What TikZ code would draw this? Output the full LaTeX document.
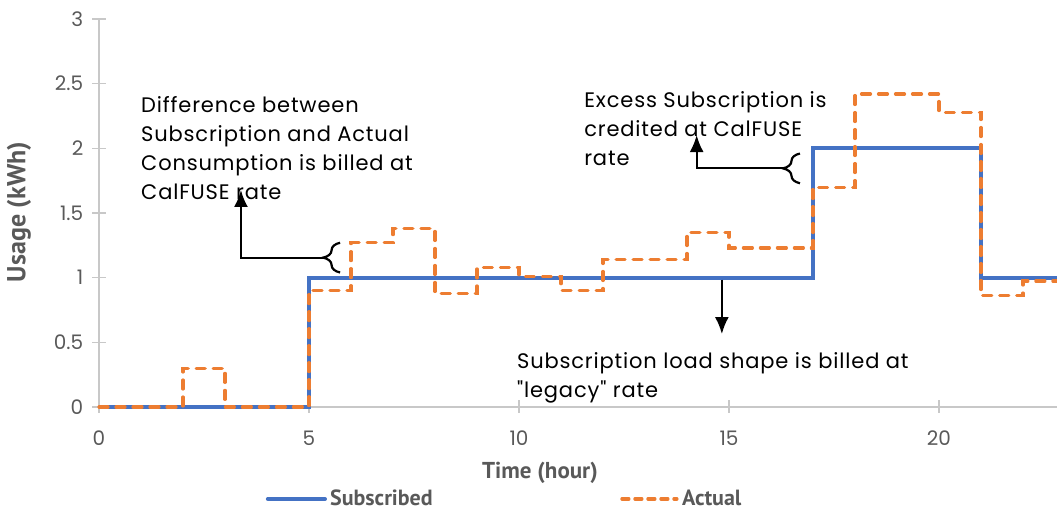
\documentclass[tikz,border=0pt]{standalone}
\usepackage{fontspec}
\setmainfont{Poppins}[Ligatures=TeXOff, LetterSpace=4]
\newfontfamily\titlefont{PT Sans}
\usetikzlibrary{arrows.meta,positioning,decorations.pathreplacing}
\definecolor{subblue}{RGB}{68,114,196}
\definecolor{actorange}{RGB}{237,125,49}
\definecolor{axisgray}{RGB}{200,200,200}
\definecolor{labelgray}{RGB}{89,89,89}

\begin{document}
\begin{tikzpicture}[
  every node/.style={inner sep=0pt},
  axisline/.style={draw=axisgray, line width=1.5pt},
  ticklbl/.style={font=\addfontfeature{LetterSpace=0}\fontsize{20}{24}\selectfont, text=labelgray},
  axtitle/.style={font=\titlefont\bfseries\fontsize{23}{27}\selectfont, text=labelgray},
  legendlbl/.style={font=\titlefont\bfseries\fontsize{22}{26}\selectfont, text=labelgray},
  note/.style={font=\fontsize{21}{29}\selectfont, align=left, anchor=north west},
  subscribed/.style={draw=subblue, line width=4pt},
  actual/.style={draw=actorange, line width=3.2pt, line cap=round,
    dash pattern=on 9pt off 8pt},
  callout/.style={-{Latex[length=17pt,width=14pt]}, line width=2.2pt},
  bracket/.style={decorate, line width=2.2pt,
    decoration={brace, amplitude=17pt}},
]
\useasboundingbox (0,0) rectangle (1057pt,512pt);

\begin{scope}[shift={(99pt,105pt)}, x=42pt, y=129.33pt]

% --- Axes ------------------------------------------------------
\draw[axisline] (0,0) -- (0,3);
\draw[axisline] (0,0) -- (22.81,0);
\foreach \v in {0,0.5,1,1.5,2,2.5,3}
  \draw[axisline] (-7pt,\v) -- (7pt,\v)
    node[ticklbl, anchor=east, xshift=-22pt] {\v};
\foreach \h in {0,5,10,15,20}
  \draw[axisline] (\h,7pt) -- (\h,-6pt)
    node[ticklbl, anchor=center, yshift=-25pt] {\h};

\node[axtitle, rotate=90, font=\titlefont\bfseries\fontsize{26}{30}\selectfont]
  (Ylbl) at (-1.905,1.508) {Usage (kWh)};
\node[axtitle] (Xlbl) at (10.5,-0.51) {Time (hour)};

% --- Series ----------------------------------------------------
\draw[subscribed] (0,0) -| (5,1) -| (17,2) -| (21,1) -- (22.81,1);
\draw[actual] (0,0) -| (2,0.3) -| (3,0) -| (5,0.9) -| (6,1.27)
  -| (7,1.38) -| (8,0.88) -| (9,1.08) -| (10,1.01) -| (11,0.9)
  -| (12,1.14) -| (14,1.35) -| (15,1.23) -| (17,1.7) -| (18,2.42)
  -| (20,2.28) -| (21,0.86) -| (22,0.975) -- (22.81,0.975);

% --- Legend ----------------------------------------------------
\coordinate (LsubA) at (4.02,-0.711);
\coordinate (LsubB) at (5.38,-0.711);
\coordinate (LactA) at (12.45,-0.711);
\coordinate (LactB) at (13.76,-0.711);
\draw[subscribed, line cap=round] (LsubA) -- (LsubB);
\draw[actual, dash pattern=on 7pt off 6pt] (LactA) -- (LactB);
\node[legendlbl, right=5pt of LsubB, yshift=1.5pt] (Lsub) {Subscribed};
\node[legendlbl, right=5pt of LactB, yshift=1.5pt] (Lact) {Actual};

% --- Notes -----------------------------------------------------
\node[note] (Ndiff) at (1.0,2.40)
  {Difference between\\Subscription and Actual\\Consumption is billed at\\CalFUSE rate};
\node[note] (Nexcess) at (11.55,2.44)
  {Excess Subscription is\\credited at CalFUSE\\rate};
\node[note] (Nlegacy) at (9.95,0.42)
  {Subscription load shape is billed at\\"legacy" rate};

% --- Braces and callouts ---------------------------------------
\coordinate (BdiffLo) at (5.74,1.04);
\coordinate (BdiffHi) at (5.74,1.27);
\coordinate (BdiffTip) at (5.335,1.155);
\coordinate (AdiffEnd) at (3.38,1.678);
\draw[bracket] (BdiffLo) -- (BdiffHi);
\draw[callout] (BdiffTip) -| (AdiffEnd);

\coordinate (BexcLo) at (16.69,1.73);
\coordinate (BexcHi) at (16.69,1.96);
\coordinate (BexcTip) at (16.285,1.845);
\coordinate (AexcEnd) at (14.23,2.103);
\draw[bracket] (BexcLo) -- (BexcHi);
\draw[callout] (BexcTip) -| (AexcEnd);

\coordinate (AlegTop) at (14.83,0.985);
\coordinate (AlegEnd) at (14.83,0.564);
\draw[callout] (AlegTop) -- (AlegEnd);

\end{scope}
\end{tikzpicture}
\end{document}
